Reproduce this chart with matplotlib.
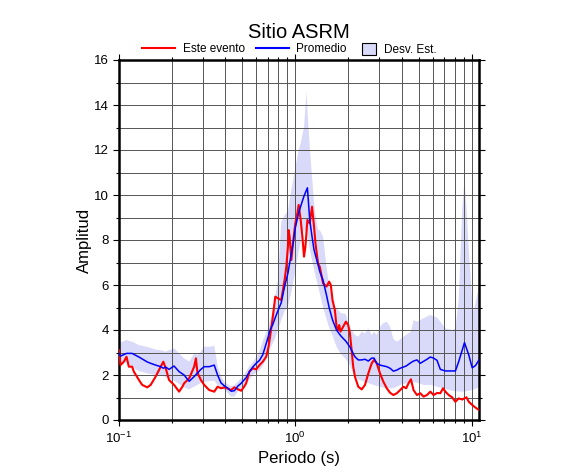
import numpy as np
import matplotlib
matplotlib.use('Agg')
import matplotlib.pyplot as plt
from matplotlib.lines import Line2D
from matplotlib.patches import Patch
from matplotlib.ticker import LogLocator, MultipleLocator

plt.rcParams['font.family'] = ['Liberation Sans', 'DejaVu Sans']
plt.rcParams['mathtext.fontset'] = 'custom'
plt.rcParams['mathtext.rm'] = 'Liberation Sans'

# Este evento (red)
t_event = [0.100, 0.102, 0.1065, 0.1103, 0.1137, 0.1187, 0.1214, 0.1297, 0.1354, 0.1446,
           0.1512, 0.1614, 0.1724, 0.1784, 0.1841, 0.1922, 0.2052, 0.2192, 0.2288, 0.2340,
           0.2499, 0.2668, 0.2729, 0.2786, 0.2913, 0.3042, 0.3248, 0.3468, 0.3622, 0.3788,
           0.3955, 0.4130, 0.4318, 0.4509, 0.4710, 0.4924, 0.5095, 0.5258, 0.5491, 0.5734,
           0.5995, 0.6259, 0.6536, 0.6835, 0.7049, 0.7232, 0.7454, 0.7692, 0.7960, 0.8321,
           0.8689, 0.8886, 0.9074, 0.9158, 0.9279, 0.9489, 0.9690, 1.000, 1.0266, 1.0442,
           1.0720, 1.0962, 1.1195, 1.1402, 1.1705, 1.2065, 1.2434, 1.2764, 1.3002, 1.3452,
           1.3756, 1.4365, 1.5018, 1.5541, 1.5890, 1.6248, 1.6746, 1.7124, 1.7487, 1.7719,
           1.8047, 1.8673, 1.9345, 1.9937, 2.0387, 2.0848, 2.1290, 2.1771, 2.2735, 2.3773,
           2.4825, 2.5924, 2.7101, 2.7935, 2.8936, 3.0213, 3.1560, 3.2993, 3.4452, 3.5978,
           3.7621, 3.9287, 4.1032, 4.2514, 4.3817, 4.5220, 4.6790, 4.8924, 5.1091, 5.3352,
           5.5780, 5.8251, 6.0814, 6.3590, 6.6405, 6.8800, 7.0905, 7.4047, 7.7426, 8.0836,
           8.4415, 8.8308, 9.3409, 9.6272, 10.065, 10.512, 11.0]
a_event = [3.10, 2.44, 2.59, 2.81, 2.37, 2.37, 2.15, 1.78, 1.56, 1.45,
           1.56, 1.93, 2.37, 2.59, 2.30, 1.78, 1.56, 1.26, 1.48, 1.63,
           1.85, 2.37, 2.74, 2.10, 1.78, 1.56, 1.33, 1.26, 1.48, 1.41,
           1.45, 1.40, 1.33, 1.45, 1.37, 1.30, 1.45, 1.63, 2.15, 2.30,
           2.25, 2.44, 2.59, 2.81, 3.26, 3.85, 4.59, 5.48, 5.41, 5.33,
           6.22, 6.81, 7.70, 8.44, 8.15, 7.11, 7.85, 8.74, 9.19, 9.56,
           8.89, 8.15, 7.26, 7.70, 8.89, 8.74, 9.48, 8.59, 7.85, 6.96,
           6.81, 6.07, 5.93, 6.15, 6.00, 5.33, 4.89, 4.15, 4.00, 4.22,
           3.93, 4.15, 4.37, 4.22, 3.85, 3.11, 2.37, 1.93, 1.48, 1.36,
           1.56, 2.07, 2.52, 2.67, 2.52, 2.07, 1.70, 1.41, 1.21, 1.11,
           1.19, 1.33, 1.48, 1.41, 1.63, 1.81, 1.33, 1.11, 1.19, 1.04,
           1.11, 1.26, 1.11, 1.20, 1.19, 1.41, 1.26, 1.11, 1.01, 0.81,
           0.96, 0.91, 1.01, 0.81, 0.67, 0.55, 0.44]

# Promedio (blue)
t_mean = [0.100, 0.102, 0.1103, 0.1187, 0.1297, 0.1446, 0.1512, 0.1614, 0.1724, 0.1784,
          0.1841, 0.1922, 0.2052, 0.2192, 0.2288, 0.2340, 0.2499, 0.2668, 0.2913, 0.3042,
          0.3248, 0.3468, 0.3622, 0.3788, 0.3955, 0.4130, 0.4318, 0.4509, 0.4710, 0.4924,
          0.5258, 0.5491, 0.5734, 0.5995, 0.6259, 0.6536, 0.6835, 0.7049, 0.7232, 0.7454,
          0.7692, 0.7960, 0.8321, 0.8689, 0.9074, 0.9489, 0.9690, 1.000, 1.0266, 1.0442,
          1.0720, 1.1195, 1.1705, 1.2065, 1.2434, 1.2764, 1.3452, 1.3756, 1.4365, 1.5018,
          1.5541, 1.6248, 1.7124, 1.8047, 1.9345, 2.0387, 2.1290, 2.1771, 2.2735, 2.3773,
          2.4825, 2.5924, 2.7101, 2.7935, 2.8936, 3.0213, 3.2993, 3.4452, 3.5978, 3.7621,
          3.9287, 4.2514, 4.5220, 4.6790, 4.8924, 5.1091, 5.5780, 5.8251, 6.0814, 6.3590,
          6.6405, 7.0905, 7.7426, 8.0836, 8.4415, 8.8308, 9.10, 9.6272, 10.065, 10.512, 11.0]
a_mean = [2.96, 2.84, 2.96, 2.96, 2.80, 2.58, 2.52, 2.44, 2.37, 2.30,
          2.35, 2.25, 2.40, 2.15, 2.05, 2.00, 1.72, 1.93, 2.25, 2.37,
          2.37, 2.44, 2.00, 1.65, 1.52, 1.42, 1.28, 1.30, 1.50, 1.63,
          1.88, 2.15, 2.35, 2.52, 2.65, 2.90, 3.40, 3.75, 4.05, 4.25,
          4.55, 4.85, 5.22, 5.93, 6.52, 7.41, 7.80, 8.55, 8.95, 9.20,
          9.50, 9.95, 10.32, 8.89, 8.15, 7.56, 6.90, 6.60, 6.20, 5.55,
          5.00, 4.45, 4.00, 3.75, 3.50, 3.25, 2.95, 2.81, 2.67, 2.67,
          2.70, 2.62, 2.75, 2.75, 2.52, 2.44, 2.37, 2.30, 2.17, 2.22,
          2.30, 2.40, 2.55, 2.62, 2.67, 2.52, 2.70, 2.80, 2.75, 2.65,
          2.25, 2.18, 2.18, 2.18, 2.60, 3.10, 3.44, 2.89, 2.32, 2.42, 2.67]

# Desv. Est. band: upper edge
t_upper = [0.100, 0.102, 0.1103, 0.1187, 0.1297, 0.1446, 0.1614, 0.1724, 0.1841, 0.2052,
           0.2192, 0.2340, 0.2499, 0.2668, 0.2786, 0.2913, 0.3042, 0.3248, 0.3468, 0.3622,
           0.3788, 0.3955, 0.4318, 0.4509, 0.4710, 0.4924, 0.5258, 0.5491, 0.5734, 0.5995,
           0.6259, 0.6536, 0.6835, 0.7049, 0.7454, 0.7692, 0.7960, 0.8321, 0.8689, 0.9074,
           0.9489, 1.000, 1.0442, 1.0720, 1.1195, 1.1402, 1.16, 1.1705, 1.2065, 1.2434,
           1.2764, 1.3002, 1.3452, 1.3756, 1.4365, 1.5018, 1.5541, 1.6248, 1.6746, 1.7487,
           1.8047, 1.9345, 1.9937, 2.0848, 2.1771, 2.2735, 2.3773, 2.4825, 2.5924, 2.7101,
           2.7935, 2.8936, 3.0213, 3.1560, 3.2993, 3.4452, 3.5978, 3.7621, 3.9287, 4.1032,
           4.5220, 4.6790, 4.8924, 5.3352, 5.8251, 6.3590, 6.6405, 7.0905, 7.7426, 8.0836,
           8.4415, 8.8308, 9.10, 9.3409, 9.6272, 10.065, 10.28, 10.512, 11.0]
a_upper = [3.30, 3.45, 3.55, 3.48, 3.33, 3.25, 3.13, 3.10, 3.04, 3.19,
           2.96, 2.74, 2.59, 2.95, 2.89, 3.04, 3.26, 3.25, 3.30, 2.40,
           1.95, 1.70, 1.50, 1.55, 1.70, 1.85, 2.15, 2.40, 2.55, 2.80,
           3.05, 3.50, 3.90, 4.10, 4.90, 5.50, 6.20, 8.80, 9.10, 9.26,
           10.22, 11.20, 12.00, 12.30, 13.00, 13.90, 14.60, 13.80, 12.15, 10.80,
           9.70, 9.10, 8.44, 8.44, 8.15, 6.80, 6.00, 5.30, 5.04, 4.89,
           4.76, 4.70, 4.30, 4.00, 3.78, 3.70, 3.93, 3.85, 4.07, 3.78,
           3.93, 3.78, 4.15, 4.30, 4.37, 4.15, 3.60, 3.48, 3.58, 3.70,
           3.93, 4.44, 4.37, 4.52, 4.67, 4.55, 4.37, 4.07, 4.00, 4.07,
           5.33, 9.33, 10.67, 9.48, 7.56, 5.33, 4.81, 5.20, 5.93]

# Desv. Est. band: lower edge
t_lower = [0.100, 0.102, 0.1103, 0.1187, 0.1297, 0.1446, 0.1614, 0.1724, 0.1841, 0.1922,
           0.2052, 0.2192, 0.2340, 0.2499, 0.2668, 0.2913, 0.3042, 0.3468, 0.3622, 0.3788,
           0.3955, 0.4130, 0.4318, 0.4509, 0.4710, 0.4924, 0.5258, 0.5491, 0.5734, 0.6259,
           0.6536, 0.6835, 0.7232, 0.7692, 0.7960, 0.8321, 0.8689, 0.9074, 0.9489, 1.000,
           1.0442, 1.0720, 1.1195, 1.1705, 1.2065, 1.2434, 1.3002, 1.3452, 1.3756, 1.4365,
           1.5018, 1.5541, 1.6248, 1.7124, 1.8047, 1.9345, 2.0387, 2.1290, 2.2735, 2.4825,
           2.7935, 3.0213, 3.2993, 3.5978, 3.9287, 4.5220, 4.8924, 5.3352, 5.8251, 6.3590,
           6.8800, 7.7426, 8.4415, 9.10, 10.065, 11.0]
a_lower = [2.70, 2.62, 2.55, 2.35, 2.18, 2.07, 2.00, 2.00, 1.90, 1.85,
           1.75, 1.60, 1.45, 1.36, 1.48, 1.65, 1.70, 1.75, 1.56, 1.45,
           1.33, 1.20, 1.04, 1.04, 1.25, 1.40, 1.65, 1.78, 2.00, 2.20,
           2.40, 2.74, 3.20, 3.65, 4.00, 4.44, 4.85, 5.04, 5.70, 6.60,
           7.50, 7.90, 8.50, 8.20, 7.60, 7.10, 6.40, 5.95, 5.63, 5.00,
           4.50, 4.10, 3.75, 3.26, 2.95, 2.70, 2.44, 2.07, 1.80, 1.70,
           1.55, 1.48, 1.41, 1.41, 1.55, 1.70, 1.66, 1.56, 1.56, 1.48,
           1.41, 1.30, 1.26, 1.26, 1.33, 1.45]

band_color = '#d9d9f9'

fig = plt.figure(figsize=(5.86, 4.75), dpi=100)
ax = fig.add_axes([119 / 586, 1 - 420 / 475, 360 / 586, 360 / 475])

# std band as one polygon: upper edge then lower edge reversed
ax.fill(t_upper + t_lower[::-1], a_upper + a_lower[::-1],
        facecolor=band_color, edgecolor='none', zorder=1)
ax.plot(t_event, a_event, color='#ff0000', lw=1.5, zorder=3)
ax.plot(t_mean, a_mean, color='#0000ff', lw=1.1, zorder=3)

ax.set_xscale('log')
ax.set_xlim(0.1, 11)
ax.set_ylim(0, 16)
ax.xaxis.set_major_locator(LogLocator(base=10))
ax.xaxis.set_minor_locator(LogLocator(base=10, subs=np.arange(2, 10)))
ax.yaxis.set_major_locator(MultipleLocator(2))
ax.yaxis.set_minor_locator(MultipleLocator(1))

ax.grid(True, which='both', color='#555555', lw=0.7)
ax.set_axisbelow('line')
for s in ax.spines.values():
    s.set_linewidth(1.8)
ax.tick_params(which='both', direction='out', top=True, right=True, labelsize=9.5, width=0.8)
ax.tick_params(which='major', length=4)
ax.tick_params(which='minor', length=2)

ax.set_xlabel('Periodo (s)', fontsize=12, labelpad=4)
ax.set_ylabel('Amplitud', fontsize=12, labelpad=1)
ax.text(0.5, 1.06, 'Sitio ASRM', transform=ax.transAxes, ha='center', va='baseline', fontsize=14.5)

# legend in two parts so the box handle can be square
leg1 = ax.legend([Line2D([], [], color='#ff0000', lw=1.5), Line2D([], [], color='#0000ff', lw=1.5)],
                 ['Este evento', 'Promedio'], ncol=2, loc='center left',
                 bbox_to_anchor=(0.064, 1.03), frameon=False, fontsize=8.5,
                 handlelength=2.8, handletextpad=0.65, columnspacing=0.9, borderpad=0,
                 borderaxespad=0)
ax.add_artist(leg1)
ax.legend([Patch(facecolor=band_color, edgecolor='black', lw=0.8)], ['Desv. Est.'],
          loc='center left', bbox_to_anchor=(0.675, 1.03), frameon=False, fontsize=8.5,
          handlelength=1.2, handleheight=1.2, handletextpad=0.7, borderpad=0, borderaxespad=0)

fig.savefig('out.png', dpi=100)
